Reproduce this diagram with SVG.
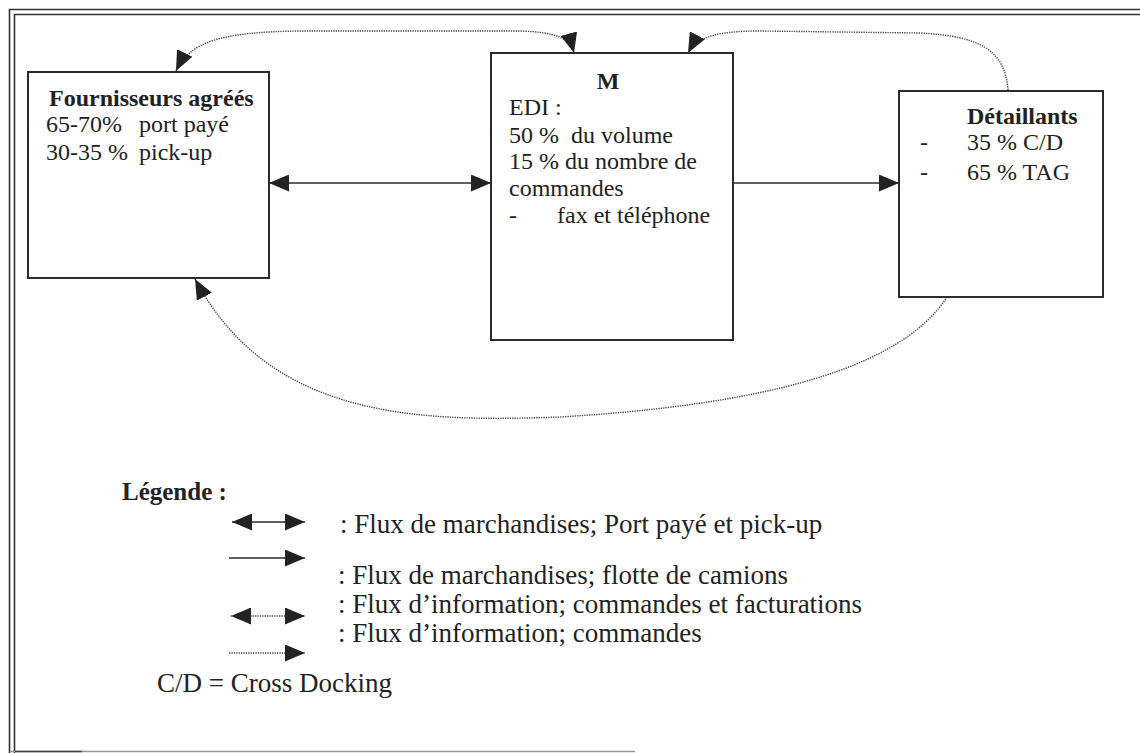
<svg xmlns="http://www.w3.org/2000/svg" width="1140" height="753" viewBox="0 0 1140 753">
<defs>
<style>
.box{fill:#fff;stroke:#2b2b2b;stroke-width:2}
.t{font-family:"Liberation Serif","Times New Roman",serif;fill:#222}
.bt{font-size:24px}
.b{font-weight:bold}
.lg{font-size:27px}
.solid{fill:none;stroke:#2b2b2b;stroke-width:1.6}
.dot{fill:none;stroke:#444;stroke-width:1.4;stroke-dasharray:1.3 1.1}
.frame{fill:none;stroke:#333;stroke-width:1.6}
</style>
<marker id="ah" viewBox="0 0 20 17" refX="20" refY="8.5" markerWidth="20" markerHeight="17" markerUnits="userSpaceOnUse" orient="auto-start-reverse">
<path d="M0,0 L20,8.5 L0,17 z" fill="#222"/>
</marker>
</defs>
<rect width="1140" height="753" fill="#fff"/>
<g id="frame">
<path class="frame" d="M9.5 753 V9.5 H1140"/>
<path class="frame" d="M14.5 753 V14.5 H1140"/>
<path d="M10 751.5 H635" stroke="#999" stroke-width="1.5" fill="none"/>
<path d="M15 751.5 H82" stroke="#444" stroke-width="1.5" fill="none"/>
</g>
<g id="connectors">
<path class="solid" d="M269 183 H491" marker-start="url(#ah)" marker-end="url(#ah)"/>
<path class="solid" d="M733 183 H899" marker-end="url(#ah)"/>
<path class="dot" d="M176 71 C190 42 220 32 300 31 L520 31 C555 32 570 38 574 53" marker-start="url(#ah)" marker-end="url(#ah)"/>
<path class="dot" d="M1008 90 C1005 50 980 36 920 33 L760 31 C720 31 697 36 688 53" marker-end="url(#ah)"/>
<path class="dot" d="M947 297 C900 370 760 405 560 417 C420 422 270 420 195 279" marker-end="url(#ah)"/>
</g>
<g id="fournisseurs">
<rect class="box" x="28" y="72" width="241" height="206"/>
<text class="t bt b" x="49" y="106">Fournisseurs agréés</text>
<text class="t bt" y="132"><tspan x="46">65-70%</tspan><tspan x="139">port payé</tspan></text>
<text class="t bt" y="160"><tspan x="46">30-35 %</tspan><tspan x="139">pick-up</tspan></text>
</g>
<g id="m">
<rect class="box" x="491" y="53" width="242" height="287"/>
<text class="t bt b" x="608" y="89" text-anchor="middle">M</text>
<text class="t bt" x="509" y="115">EDI :</text>
<text class="t bt" y="143"><tspan x="509">50 %</tspan><tspan x="571">du volume</tspan></text>
<text class="t bt" x="509" y="169">15 % du nombre de</text>
<text class="t bt" x="509" y="196">commandes</text>
<text class="t bt" y="223"><tspan x="509">-</tspan><tspan x="557">fax et téléphone</tspan></text>
</g>
<g id="detaillants">
<rect class="box" x="899" y="91" width="204" height="206"/>
<text class="t bt b" x="967" y="124">Détaillants</text>
<text class="t bt" y="150"><tspan x="920">-</tspan><tspan x="967">35 % C/D</tspan></text>
<text class="t bt" y="180"><tspan x="920">-</tspan><tspan x="967">65 % TAG</tspan></text>
</g>
<g id="legende">
<text class="t b" x="122" y="500" font-size="25">Légende :</text>
<path class="solid" d="M232 522 H305" marker-start="url(#ah)" marker-end="url(#ah)"/>
<path class="solid" d="M229 558 H305" marker-end="url(#ah)"/>
<path class="dot" d="M231 616 H305" marker-start="url(#ah)" marker-end="url(#ah)"/>
<path class="dot" d="M229 653 H305" marker-end="url(#ah)"/>
<text class="t lg" x="340" y="533">: Flux de marchandises; Port payé et pick-up</text>
<text class="t lg" x="338" y="584">: Flux de marchandises; flotte de camions</text>
<text class="t lg" x="338" y="613">: Flux d’information; commandes et facturations</text>
<text class="t lg" x="338" y="642">: Flux d’information; commandes</text>
<text class="t lg" x="157" y="692">C/D = Cross Docking</text>
</g>
</svg>
